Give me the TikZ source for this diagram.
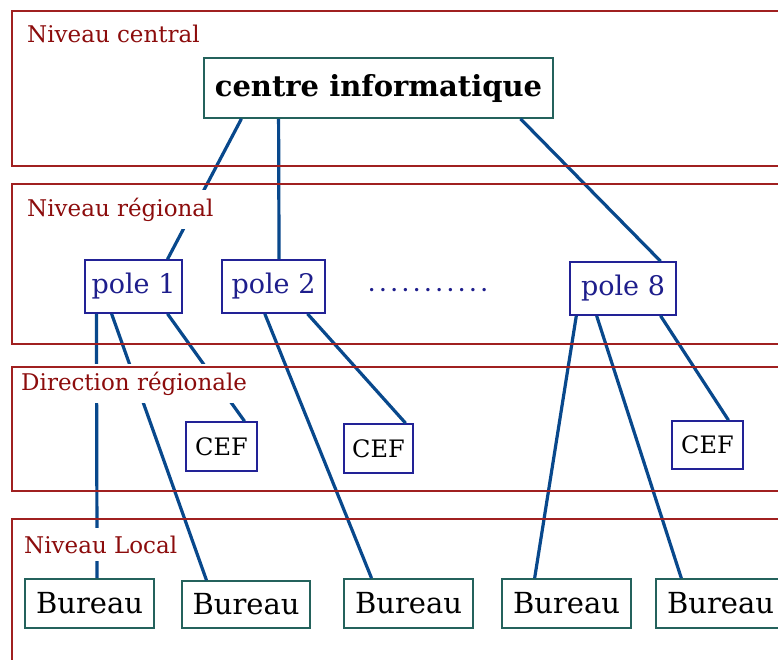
\documentclass[tikz,border=0pt]{standalone}
\usepackage{fontspec}
\setmainfont{DejaVu Serif}
\usetikzlibrary{calc}

\definecolor{levelred}{RGB}{160,32,32}
\definecolor{labelred}{RGB}{140,12,12}
\definecolor{tealbox}{RGB}{36,98,92}
\definecolor{navybox}{RGB}{34,34,150}
\definecolor{navytext}{RGB}{30,30,140}
\definecolor{linkblue}{RGB}{8,72,140}

\tikzset{
  levelbox/.style={draw=levelred, line width=1.6pt},
  levellabel/.style={anchor=base west, text=labelred, fill=white,
    inner xsep=3pt, inner ysep=8pt, font=\fontsize{23}{23}\selectfont},
  centrebox/.style={draw=tealbox, line width=1.6pt, fill=white, inner sep=0pt,
    font=\fontsize{29}{29}\selectfont\bfseries},
  polebox/.style={draw=navybox, line width=1.6pt, fill=white, inner sep=0pt,
    text=navytext, font=\fontsize{27}{27}\selectfont},
  cefbox/.style={draw=navybox, line width=1.6pt, fill=white, inner sep=0pt,
    font=\fontsize{24}{24}\selectfont},
  bureaubox/.style={draw=tealbox, line width=1.6pt, fill=white, inner sep=0pt,
    font=\fontsize{29}{29}\selectfont},
  link/.style={draw=linkblue, line width=3.2pt},
}

% point at fraction #2 along the bottom / top edge of node #1
\newcommand{\edgebot}[2]{($(#1.south west)!#2!(#1.south east)$)}
\newcommand{\edgetop}[2]{($(#1.north west)!#2!(#1.north east)$)}
% a row of spaced dots
\newcommand{\dotrow}{\bfseries.\kern5pt.\kern5pt.\kern5pt.\kern5pt.\kern5pt.\kern5pt.\kern5pt.\kern5pt.\kern5pt.\kern5pt.}

\begin{document}
\begin{tikzpicture}[x=1pt, y=-1pt]
  \clip (0,0) rectangle (778,659);
  \fill[white] (0,0) rectangle (778,659);

  % central level
  \node[centrebox, minimum width=349pt, minimum height=60pt] (ci) at (378.5,88) {centre informatique};

  % regional poles
  \node[polebox, minimum width=97pt, minimum height=53pt] (p1) at (133.5,286.5) {pole 1};
  \node[polebox, minimum width=103pt, minimum height=53pt] (p2) at (273.5,286.5) {pole 2};
  \node[polebox, minimum width=106pt, minimum height=53pt] (p8) at (623,288.5) {pole 8};
  \node[text=navytext, font=\fontsize{18}{18}\selectfont, inner sep=0pt, anchor=base] (dots) at (428,291)
    {\dotrow};

  % CEF boxes
  \node[cefbox, minimum width=71pt, minimum height=49pt] (cef1) at (221.5,446.5) {CEF};
  \node[cefbox, minimum width=69pt, minimum height=49pt] (cef2) at (378.5,448.5) {CEF};
  \node[cefbox, minimum width=71pt, minimum height=48pt] (cef8) at (707.5,445) {CEF};

  % local offices
  \node[bureaubox, minimum width=129pt, minimum height=49pt] (b1) at (89.5,603.5) {Bureau};
  \node[bureaubox, minimum width=128pt, minimum height=47pt] (b2) at (246,604.5) {Bureau};
  \node[bureaubox, minimum width=129pt, minimum height=49pt] (b3) at (408.5,603.5) {Bureau};
  \node[bureaubox, minimum width=129pt, minimum height=49pt] (b4) at (566.5,603.5) {Bureau};
  \node[bureaubox, minimum width=129pt, minimum height=49pt] (b5) at (720.5,603.5) {Bureau};

  % links
  \draw[link] \edgebot{ci}{0.109} -- \edgetop{p1}{0.845};
  \draw[link] \edgebot{ci}{0.215} -- \edgetop{p2}{0.553};
  \draw[link] \edgebot{ci}{0.905} -- \edgetop{p8}{0.849};

  \draw[link] \edgebot{p1}{0.124} -- \edgetop{b1}{0.558};
  \draw[link] \edgebot{p1}{0.278} -- \edgetop{b2}{0.195};
  \draw[link] \edgebot{p1}{0.845} -- \edgetop{cef1}{0.817};

  \draw[link] \edgebot{p2}{0.417} -- \edgetop{b3}{0.217};
  \draw[link] \edgebot{p2}{0.825} -- \edgetop{cef2}{0.884};

  \draw[link] \edgebot{p8}{0.066} -- \edgetop{b4}{0.256};
  \draw[link] \edgebot{p8}{0.255} -- \edgetop{b5}{0.200};
  \draw[link] \edgebot{p8}{0.849} -- \edgetop{cef8}{0.789};

  % level captions
  \node[levellabel] (lc) at (24,42) {Niveau central};
  \node[levellabel] (lr) at (24,216) {Niveau régional};
  \node[levellabel] (ld) at (18,390) {Direction régionale};
  \node[levellabel] (ll) at (21,553) {Niveau Local};

  % level frames (open to the right)
  \draw[levelbox] (12,11) rectangle (800,166);
  \draw[levelbox] (12,184) rectangle (800,344);
  \draw[levelbox] (12,367) rectangle (800,491);
  \draw[levelbox] (12,519) rectangle (800,700);
\end{tikzpicture}
\end{document}
